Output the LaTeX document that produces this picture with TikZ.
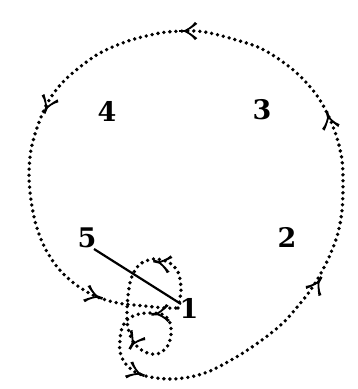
\documentclass[tikz,border=0pt]{standalone}
\usepackage{fontspec}
\setmainfont{DejaVu Serif}
\begin{document}
\begin{tikzpicture}[x=1pt,y=-1pt,
  dotline/.style={line width=3.8pt, line cap=round, dash pattern=on 0pt off 6pt},
  lbl/.style={font=\fontsize{27}{27}\selectfont\bfseries, inner sep=0pt},
  solidline/.style={line width=2.2pt},
  barb/.pic={
    \begin{scope}[scale=0.95]
    \fill (1.5,0) .. controls (-3,-2) and (-8,-4.5) .. (-11.5,-9.5) -- (-14,-7.5)
      .. controls (-9,-3.5) and (-5,-1.2) .. (-3,0)
      .. controls (-5,1.2) and (-9,3.5) .. (-14,7.5) -- (-11.5,9.5)
      .. controls (-8,4.5) and (-3,2) .. (1.5,0) -- cycle;
    \draw[line width=2.6pt] (-3,0) -- (5,0);
    \end{scope}
  }]
\useasboundingbox (0,0) rectangle (358,389);
\fill[white] (0,0) rectangle (358,389);

% labels
\node[lbl] (n1) at (189,308) {1};
\node[lbl] (n2) at (287,237) {2};
\node[lbl] (n3) at (262,110) {3};
\node[lbl] (n4) at (107,111) {4};
\node[lbl] (n5) at (87,238) {5};

\coordinate (a5) at (94,249);
\coordinate (a1) at (181,304);

% solid line 5 -- 1
\draw[solidline] (a5) -- (a1);

% dotted path
\draw[dotline] plot[smooth, tension=0.55] coordinates {
  (178,308) (181,290) (178,272) (168,262) (153,259) (139,265) (131,279)
  (128,296) (127,312) (128,328) (134,343) (145,352) (157,354) (167,347)
  (171,335) (170,323) (164,315) (152,313) (139,314) (128,319) (122,328)
  (120,340) (120,352) (125,363) (135,372) (150,377) (170,379) (190,377)
  (210,371) (233,359) (252,347) (270,334) (285,321) (298,306) (310,291)
  (321,273) (330,255) (338,233) (342,210) (343,185) (342,160) (337,138)
  (329,117) (318,97) (302,78) (283,62) (260,48) (233,39) (205,32) (185,31)
  (160,33) (128,41) (100,53) (80,67) (62,83) (48,102) (38,125) (31,150)
  (29,175) (31,200) (36,225) (45,248) (58,268) (75,284) (95,296) (118,303)
  (145,306) (165,308) (178,308)};

% arrowheads
\pic[rotate=180] at (184,31) {barb};
\pic[rotate=248] at (46,109) {barb};
\pic[rotate=105] at (328,116) {barb};
\pic[rotate=60] at (319,281) {barb};
\pic[rotate=-22] at (140,374) {barb};
\pic[rotate=-18] at (98,297) {barb};
\pic[rotate=168] at (158,262) {barb};
\pic[rotate=185] at (156,314) {barb};
\pic[rotate=240] at (132,345) {barb};
\end{tikzpicture}
\end{document}
